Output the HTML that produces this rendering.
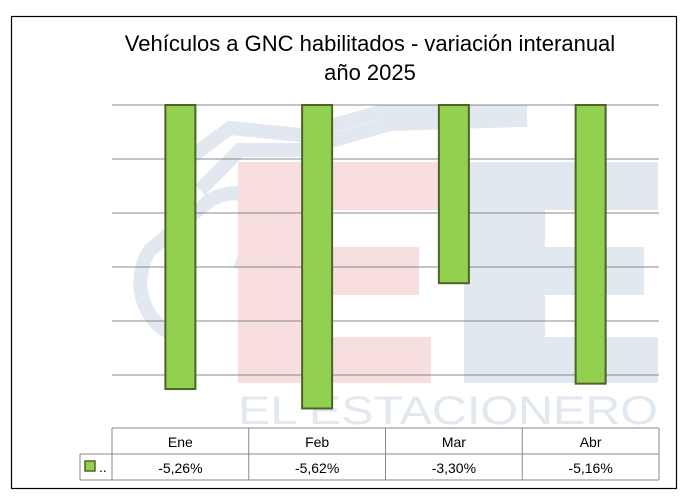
<!DOCTYPE html>
<html><head><meta charset="utf-8"><style>
body{margin:0;background:#fff;}
svg{display:block;font-family:"Liberation Sans",Calibri,sans-serif;}
</style></head><body>
<svg id="chart" width="687" height="503">
<rect x="11.5" y="16.5" width="665" height="472" fill="#fff" stroke="#000" stroke-width="1.2"/>
<g>
<path d="M180,165 L230,128 L300,135 L380,112 L520,112 L520,120 L390,124 L300,150 L240,150 L200,190 M190,340 C140,330 130,280 150,250 L210,200 C240,185 260,195 255,230 L240,270" fill="none" stroke="#e1e8f0" stroke-width="14"/>
<g fill="#f8dede">
<rect x="238" y="162" width="67" height="221"/>
<polygon points="238,162 491,162 475,210 238,210"/>
<rect x="238" y="247" width="181" height="48"/>
<rect x="238" y="337" width="193" height="46"/>
</g>
<g fill="#e1e8f0">
<rect x="464" y="162" width="81" height="221"/>
<polygon points="480,162 658,162 658,210 464,210 464,185"/>
<rect x="464" y="247" width="180" height="48"/>
<rect x="464" y="337" width="194" height="46"/>
</g>
<text x="448" y="424" text-anchor="middle" font-size="40" fill="#e1e8f0" textLength="420" lengthAdjust="spacingAndGlyphs">EL ESTACIONERO</text>
</g>
<text x="370" y="51" text-anchor="middle" font-size="22" fill="#000">Vehículos a GNC habilitados - variación interanual</text>
<text x="370" y="80" text-anchor="middle" font-size="22" fill="#000">año 2025</text>
<g id="grid"></g>
<g id="bars"></g>
<g id="table"></g>
</svg>
<script>
const categories = ["Ene","Feb","Mar","Abr"];
const values = [-5.26,-5.62,-3.30,-5.16];
const labels = ["-5,26%","-5,62%","-3,30%","-5,16%"];
const gridTicks = [0,-1,-2,-3,-4,-5];

const NS="http://www.w3.org/2000/svg";
const x0=112, x1=659, y0=105, pxPer=54;
const cw=(x1-x0)/categories.length;
const yScale=v=>y0 - v*pxPer;
const xCenter=i=>x0+cw*i+cw/2;
function mk(tag,attrs,parent){const e=document.createElementNS(NS,tag);for(const k in attrs)e.setAttribute(k,attrs[k]);parent.appendChild(e);return e;}
const grid=document.getElementById('grid');
gridTicks.forEach(t=>{
  const l=mk('line',{x1:x0,x2:x1,y1:yScale(t),y2:yScale(t),stroke:'#888','stroke-width':1},grid);
  
  
});
const bars=document.getElementById('bars');
values.forEach((v,i)=>{
  const yb=yScale(v);
  const r=mk('rect',{x:xCenter(i)-15,y:y0,width:30,height:yb-y0,fill:'#92d050',stroke:'#4f6228','stroke-width':2},bars);
  
  
});
const tb=document.getElementById('table');
const ty0=428, ty1=454, ty2=480;
const st={stroke:'#888','stroke-width':1};
mk('line',Object.assign({x1:x0,x2:x1,y1:ty0,y2:ty0},st),tb);
mk('line',Object.assign({x1:80,x2:x1,y1:ty1,y2:ty1},st),tb);
mk('line',Object.assign({x1:80,x2:x1,y1:ty2,y2:ty2},st),tb);
mk('line',Object.assign({x1:80,x2:80,y1:ty1,y2:ty2},st),tb);
for(let i=0;i<=categories.length;i++){
  mk('line',Object.assign({x1:x0+cw*i,x2:x0+cw*i,y1:ty0,y2:ty2},st),tb);
}
const sw=mk('rect',{x:85,y:461,width:10,height:10,fill:'#92d050',stroke:'#4f6228','stroke-width':1.5},tb);


const dots=mk('text',{x:99,y:472,'font-size':14,fill:'#000'},tb);dots.textContent='..';


categories.forEach((c,i)=>{
  const t=mk('text',{x:xCenter(i),y:447,'text-anchor':'middle','font-size':14,fill:'#000'},tb);
  t.textContent=c;
  
  
  const t2=mk('text',{x:xCenter(i),y:473,'text-anchor':'middle','font-size':14,fill:'#000'},tb);
  t2.textContent=labels[i];
  
  
});
</script>
</body></html>
